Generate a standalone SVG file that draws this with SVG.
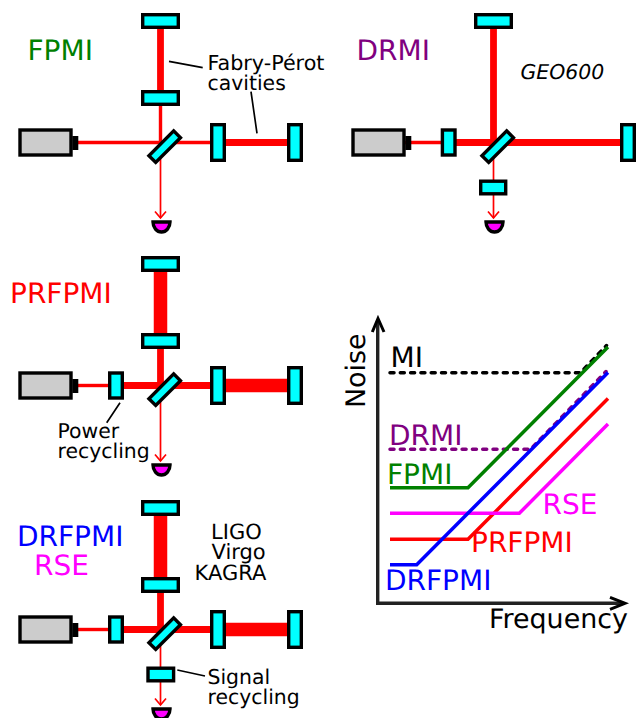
<svg xmlns="http://www.w3.org/2000/svg" width="641" height="718" viewBox="0 0 641 718">
<style>
text{font-family:"DejaVu Sans",sans-serif;fill:#000;text-rendering:geometricPrecision}
.s{font-size:20.4px}.l{font-size:28px}.m{font-size:26.9px}
.b{stroke:#f00;fill:none}
.b1{stroke-width:1.7}.b3{stroke-width:3.4}.b6{stroke-width:6.8}.b13{stroke-width:13.5}
.mir{fill:#0ff;stroke:#000;stroke-width:3.4}
.las{fill:#ccc;stroke:#000;stroke-width:3.4}
.det{fill:#f0f;stroke:#000;stroke-width:3.4}
.lead{stroke:#000;stroke-width:1.7;fill:none}
.cv{fill:none;stroke-width:3.5}
.dash{stroke-dasharray:4 6.3;stroke-linecap:round}
</style>
<defs>
<g id="laser"><rect class="las" x="74" y="137.7" width="2.6" height="10.6"/><rect class="las" x="20" y="130" width="51" height="25"/></g>
<g id="detector"><path class="b b1" d="M155,211.5L160.5,218L166,211.5"/><path class="det" d="M153,222 H170 A8.5,10 0 0 1 153,222 Z"/></g>
<rect id="bs" class="mir" x="-17.5" y="-4.8" width="35" height="9.6" transform="rotate(-45)"/>
</defs>
<g id="connectors">
<path class="b b3" d="M160.5,105V143M78,142.5H211"/><path class="b b6" d="M160.5,28V92M225,142.5H288"/><path class="b b1" d="M160.5,150V218"/>
<path class="b b3" d="M405,142.5H442"/><path class="b b6" d="M493.5,28V145M455,142.5H621"/><path class="b b1" d="M493.5,150V218"/>
<path class="b b3" d="M78,385.5H110"/><path class="b b6" d="M123,385.5H211M160.5,347V388"/><path class="b b13" d="M160.5,271V335M225,385.5H288"/><path class="b b1" d="M160.5,393V461"/>
<path class="b b3" d="M78,629.5H110"/><path class="b b6" d="M123,629.5H211M160.5,591V632"/><path class="b b13" d="M160.5,515V579M225,629.5H288"/><path class="b b1" d="M160.5,637V705"/>
<path class="lead" d="M169,61.3L202.7,67.7M251,91.7L257,133.3M120,402.7L106.7,422.7M177.3,670L205,676"/>
</g>
<g id="fpmi">
<use href="#laser"/><use href="#detector"/>
<rect class="mir" x="142.7" y="14.7" width="35.6" height="12.6"/><rect class="mir" x="142.7" y="91.7" width="35.6" height="12.6"/>
<use href="#bs" x="164.7" y="146.7"/>
<rect class="mir" x="211.7" y="124.7" width="12.6" height="35.6"/><rect class="mir" x="288.7" y="124.7" width="12.6" height="35.6"/>
<text class="l" x="27.5" y="60" style="fill:#008000">FPMI</text>
<text class="s" x="207.5" y="70" style="font-size:20.7px">Fabry-Pérot</text><text class="s" x="207.5" y="90">cavities</text>
</g>
<g id="drmi">
<use href="#laser" x="333"/><use href="#detector" x="333"/>
<rect class="mir" x="475.7" y="14.7" width="35.6" height="12.6"/>
<use href="#bs" x="497.7" y="146.7"/>
<rect class="mir" x="442.4" y="130" width="12.6" height="25"/>
<rect class="mir" x="480.7" y="181.2" width="25" height="12.6"/>
<rect class="mir" x="621.7" y="124.7" width="12.6" height="35.6"/>
<text class="l" x="356.5" y="60" style="fill:#800080">DRMI</text>
<text class="s" x="520.5" y="79" font-style="italic">GEO600</text>
</g>
<g id="prfpmi">
<use href="#laser" y="243"/><use href="#detector" y="243"/>
<rect class="mir" x="142.7" y="257.7" width="35.6" height="12.6"/><rect class="mir" x="142.7" y="334.7" width="35.6" height="12.6"/>
<use href="#bs" x="164.7" y="389.7"/>
<rect class="mir" x="109.7" y="373" width="12.6" height="25"/>
<rect class="mir" x="211.7" y="367.7" width="12.6" height="35.6"/><rect class="mir" x="288.7" y="367.7" width="12.6" height="35.6"/>
<text class="l" x="10" y="303" style="fill:#f00">PRFPMI</text>
<text class="s" x="57.5" y="438">Power</text><text class="s" x="57.5" y="458">recycling</text>
</g>
<g id="drfpmi">
<use href="#laser" y="487"/><use href="#detector" y="487"/>
<rect class="mir" x="142.7" y="501.7" width="35.6" height="12.6"/><rect class="mir" x="142.7" y="578.7" width="35.6" height="12.6"/>
<use href="#bs" x="164.7" y="633.7"/>
<rect class="mir" x="109.7" y="617" width="12.6" height="25"/>
<rect class="mir" x="148" y="668.2" width="25.6" height="12.6"/>
<rect class="mir" x="211.7" y="611.7" width="12.6" height="35.6"/><rect class="mir" x="288.7" y="611.7" width="12.6" height="35.6"/>
<text class="l" x="17" y="546" style="fill:#00f">DRFPMI</text>
<text class="l" x="34" y="575" style="fill:#f0f">RSE</text>
<text class="s" x="211" y="539" style="font-size:21px">LIGO</text><text class="s" x="211.5" y="559" style="font-size:21px">Virgo</text><text class="s" x="194.5" y="580" style="font-size:21px">KAGRA</text>
<text class="s" x="207.5" y="684">Signal</text><text class="s" x="207.5" y="703.5">recycling</text>
</g>
<g id="graph">
<path class="cv dash" stroke="#000" d="M390,372.7H580.5L606.5,345.5"/>
<path class="cv dash" stroke="#800080" d="M390,449.3H530.5L606,371.5"/>
<path class="cv" stroke="#008000" d="M390,487.7H468L608,347"/>
<path class="cv" stroke="#f00" d="M390,539.3H468L608,398.5"/>
<path class="cv" stroke="#f0f" d="M390,513.3H519.3L608,424"/>
<path class="cv" stroke="#00f" d="M390,564.7H416.7L608,372.5"/>
<path fill="none" stroke="#222" stroke-width="3.4" d="M377.7,320V603.3H623"/>
<path fill="none" stroke="#000" stroke-width="3" d="M372.3,332L378,318.5L384,332M610,597.3L625,603.3L610,609.3"/>
<text class="l" x="390.5" y="367">MI</text>
<text class="l" x="389" y="444.5" style="fill:#800080">DRMI</text>
<text class="l" x="387" y="483.5" style="fill:#008000">FPMI</text>
<text class="l" x="542.5" y="513.5" style="fill:#f0f">RSE</text>
<text class="l" x="471" y="551.5" style="fill:#f00">PRFPMI</text>
<text class="l" x="385" y="589.5" style="fill:#00f">DRFPMI</text>
<text class="m" x="489" y="628">Frequency</text>
<text class="m" transform="translate(365,408) rotate(-90)">Noise</text>
</g>
</svg>
